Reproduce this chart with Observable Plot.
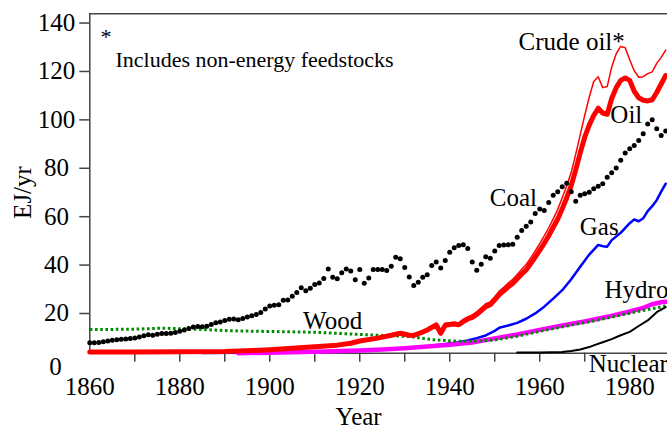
<!DOCTYPE html>
<html><head><meta charset="utf-8">
<script src="https://cdn.jsdelivr.net/npm/d3@7"></script>
<script src="https://cdn.jsdelivr.net/npm/@observablehq/plot@0.6"></script>
<style>
html,body{margin:0;padding:0;background:#fff;overflow:hidden;}
#chart svg{display:block;overflow:hidden;}
</style></head><body><div id="chart"></div>
<script>
// Coal: one value per year from 1860
const coalStart = 1860;
const coalValues = [
 7.1,7.1,7.2,7.5,7.8,8.1,8.3,8.5,8.6,8.8,
 9.1,9.5,10.0,10.4,10.2,10.6,10.9,10.9,11.0,11.3,
 11.8,12.4,13.0,13.6,13.8,13.7,13.9,14.6,15.3,15.7,
 16.3,16.8,16.9,16.6,17.1,17.7,18.2,18.8,19.6,21.0,
 22.3,22.6,22.8,24.6,24.8,26.3,27.8,29.8,28.6,29.6,
 31.2,31.8,33.6,37.6,34.2,33.5,36.0,37.6,36.7,33.1,
 37.4,31.7,33.8,37.4,37.4,37.4,36.9,38.7,42.4,41.8,
 38.2,34.3,30.7,32.1,34.2,35.2,39.0,40.4,38.0,41.1,
 44.5,46.3,47.3,47.6,46.0,40.5,37.0,39.5,42.6,42.0,
 45.0,47.3,47.5,47.6,47.8,50.7,53.5,55.2,57.0,60.5,
 62.4,61.7,65.0,68.0,69.5,71.5,73.0,69.5,65.5,68.0,
 68.6,69.3,70.7,71.7,72.8,75.5,77.3,79.3,82.5,85.5,
 87.2,88.6,90.7,93.4,97.5,99.2,95.5,92.7,94.6
];

const oilYears = [1860,1870,1880,1890,1895,1900,1905,1910,1915,1918,1920,1924,1927,1929,
 1930,1931,1932,1933,1934,1935,1936,1937,1938,1939,1940,1941,1942,1943,1944,1945,1946,1947,1948,1949,
 1950,1951,1952,1953,1954,1955,1956,1957,1958,1959,1960,1961,1962,1963,1964,1965,1966,1967,1968,1969,
 1970,1971,1972,1973,1974,1975,1976,1977,1978,1979,1980,1981,1982,1983,1984,1985,1986,1987,1988];
const oilValues = [3.3,3.3,3.4,3.5,3.8,4.2,4.8,5.4,6.1,6.9,7.8,9.0,10.2,11.0,
 10.6,10.2,10.1,10.8,11.5,12.3,13.4,14.4,11.0,14.3,14.6,14.8,14.5,15.8,16.9,17.6,18.8,20.4,22.0,22.8,
 24.8,27.0,28.5,30.2,31.6,33.5,35.5,37.2,39.8,42.5,45.3,48.2,51.3,54.8,58.2,62.5,67.0,72.0,78.5,85.5,
 92.0,97.0,101.0,104.0,102.0,101.5,108.0,112.5,115.5,116.5,115.5,111.0,108.3,107.3,107.0,107.5,110.5,114.0,117.5];
const crudeValues = [3.5,3.5,3.6,3.7,4.0,4.4,5.0,5.7,6.4,7.2,8.2,9.5,10.7,11.6,
 11.2,10.8,10.7,11.4,12.1,13.0,14.1,15.2,11.8,15.1,15.4,15.6,15.3,16.7,17.8,18.6,19.8,21.5,23.2,24.0,
 26.1,28.4,30.0,31.8,33.3,35.3,37.5,39.4,42.1,45.0,48.0,51.2,54.6,58.3,62.2,67.0,72.0,77.5,85.0,93.0,
 101.0,108.5,115.0,117.0,112.5,113.0,121.0,126.5,129.5,129.0,124.0,119.5,116.8,117.0,118.3,119.0,122.5,125.0,128.0];

const gasYears = [1885,1895,1905,1912,1918,1925,1929,1932,1935,1939,1942,1944,1946,1948,1950,1951,1953,1955,1957,1959,
 1961,1963,1965,1967,1969,1971,1973,1974,1975,1976,1978,1980,1981,1982,1983,1984,1985,1986,1987,1988];
const gasValues = [2.9,3.0,3.2,3.5,3.9,4.3,4.6,5.0,5.6,6.6,7.3,8.0,9.0,10.1,12.0,13.3,14.2,15.3,17.0,19.2,
 22.0,25.3,28.8,33.3,38.5,43.5,47.5,47.0,46.8,49.5,52.5,56.5,58.0,57.3,58.5,61.5,63.5,66.0,69.5,72.8];

const hydroYears = [1893,1900,1910,1920,1925,1930,1935,1940,1945,1950,1955,1960,1965,1970,1975,1980,1983,1985,1987,1988];
const hydroValues = [2.8,3.0,3.4,3.9,4.3,4.8,5.5,6.3,7.2,8.9,10.5,12.4,14.2,15.9,17.8,20.0,21.5,23.0,23.8,24.0];

const woodYears = [1860,1865,1870,1876,1880,1885,1890,1898,1905,1910,1915,1920,1925,1931,1936,1940,1944,1950,1955,1960,1966,1973,1980,1985,1988];
const woodValues = [12.6,12.6,12.7,13.1,12.9,12.6,12.1,11.8,11.6,11.4,11.0,10.5,10.1,9.7,8.4,7.9,7.6,8.2,9.8,11.8,14.0,16.5,19.3,21.2,22.3];

const nuclearYears = [1955,1960,1965,1967,1969,1971,1972,1974,1976,1978,1980,1982,1984,1986,1988];
const nuclearValues = [3.1,3.1,3.3,3.7,4.3,5.3,6.0,7.3,8.6,10.2,11.6,14.0,16.3,19.7,21.8];

const yTicks = [20,40,60,80,100,120,140];
const xLabelTicks = [1860,1880,1900,1920,1940,1960,1980];
const xMinorTicks = [1870,1880,1890,1900,1910,1920,1930,1940,1950,1960,1970];

const seriesLabels = [
 {text:"Crude oil*", year:1955.3, value:131.3},
 {text:"Oil", year:1975.7, value:101.0},
 {text:"Coal", year:1948.9, value:66.8},
 {text:"Gas", year:1968.9, value:54.8},
 {text:"Hydro", year:1974.4, value:28.9},
 {text:"Nuclear", year:1970.9, value:-1.6},
 {text:"Wood", year:1907.4, value:15.9}
];
const noteLabels = [
 {text:"*", year:1862.4, value:133.6},
 {text:"Includes non-energy feedstocks", year:1865.7, value:123.8}
];

const rows = (years, values) => years.map((x, i) => ({x, y: values[i]}));
const coal = coalValues.map((y, i) => ({x: coalStart + i, y}));
const oil = rows(oilYears, oilValues);
const crude = rows(oilYears, crudeValues);
const gas = rows(gasYears, gasValues);
const hydro = rows(hydroYears, hydroValues);
const wood = rows(woodYears, woodValues);
const nuclear = rows(nuclearYears, nuclearValues);

const axisColor = "#444";
const chart = Plot.plot({
  width: 667, height: 429,
  marginLeft: 89.3, marginRight: 0, marginTop: 13.3, marginBottom: 76.3,
  x: {domain: [1860, 1988.4], label: null},
  y: {domain: [2.77, 143], label: null},
  style: {fontFamily: "'Liberation Serif', 'Times New Roman', serif", fontSize: "25px", color: "#000", background: "#fff"},
  marks: [
    Plot.frame({anchor: "top", stroke: axisColor, strokeWidth: 1.5}),
    Plot.frame({anchor: "left", stroke: axisColor, strokeWidth: 1.5}),
    Plot.frame({anchor: "bottom", stroke: axisColor, strokeWidth: 1.5}),
    Plot.axisY(yTicks, {tickSize: 10, tickPadding: 23.3, textAnchor: "middle", dy: 2, stroke: axisColor, strokeWidth: 1.5, fontSize: 25, label: null}),
    Plot.axisY([0], {tickSize: 0, tickPadding: 34.3, textAnchor: "middle", dy: 7, fontSize: 25, label: null}),
    Plot.axisX(xMinorTicks, {tickSize: 9, tickFormat: () => "", stroke: axisColor, strokeWidth: 1.5, label: null}),
    Plot.axisX(xLabelTicks, {tickSize: 0, tickPadding: 24, tickFormat: d => String(d), fontSize: 25, label: null}),
    Plot.line(gas, {x: "x", y: "y", stroke: "#0000ff", strokeWidth: 2.5}),
    Plot.line(hydro, {x: "x", y: "y", stroke: "#ff00ff", strokeWidth: 4.5}),
    Plot.line(wood, {x: "x", y: "y", stroke: "#008c00", strokeWidth: 3, strokeDasharray: "2.6,2.6", strokeLinecap: "butt"}),
    Plot.line(nuclear, {x: "x", y: "y", stroke: "#000", strokeWidth: 2}),
    Plot.line(oil, {x: "x", y: "y", stroke: "#ff0000", strokeWidth: 5}),
    Plot.line(crude, {x: "x", y: "y", stroke: "#ff0000", strokeWidth: 1.5}),
    Plot.dot(coal, {x: "x", y: "y", r: 2.5, fill: "#000", stroke: null}),
    Plot.text(seriesLabels, {x: "year", y: "value", text: "text", textAnchor: "start", fontSize: 25, fill: "#000"}),
    Plot.text(noteLabels, {x: "year", y: "value", text: "text", textAnchor: "start", fontSize: 22, fill: "#000"}),
    Plot.text(["EJ/yr"], {frameAnchor: "left", rotate: -90, dx: -67.3, dy: 9, textAnchor: "middle", lineAnchor: "middle", fontSize: 25, fill: "#000"}),
    Plot.text(["Year"], {frameAnchor: "bottom", dx: -20, dy: 63.5, textAnchor: "middle", lineAnchor: "middle", fontSize: 25, fill: "#000"})
  ]
});
document.getElementById("chart").appendChild(chart);
</script>
</body></html>
